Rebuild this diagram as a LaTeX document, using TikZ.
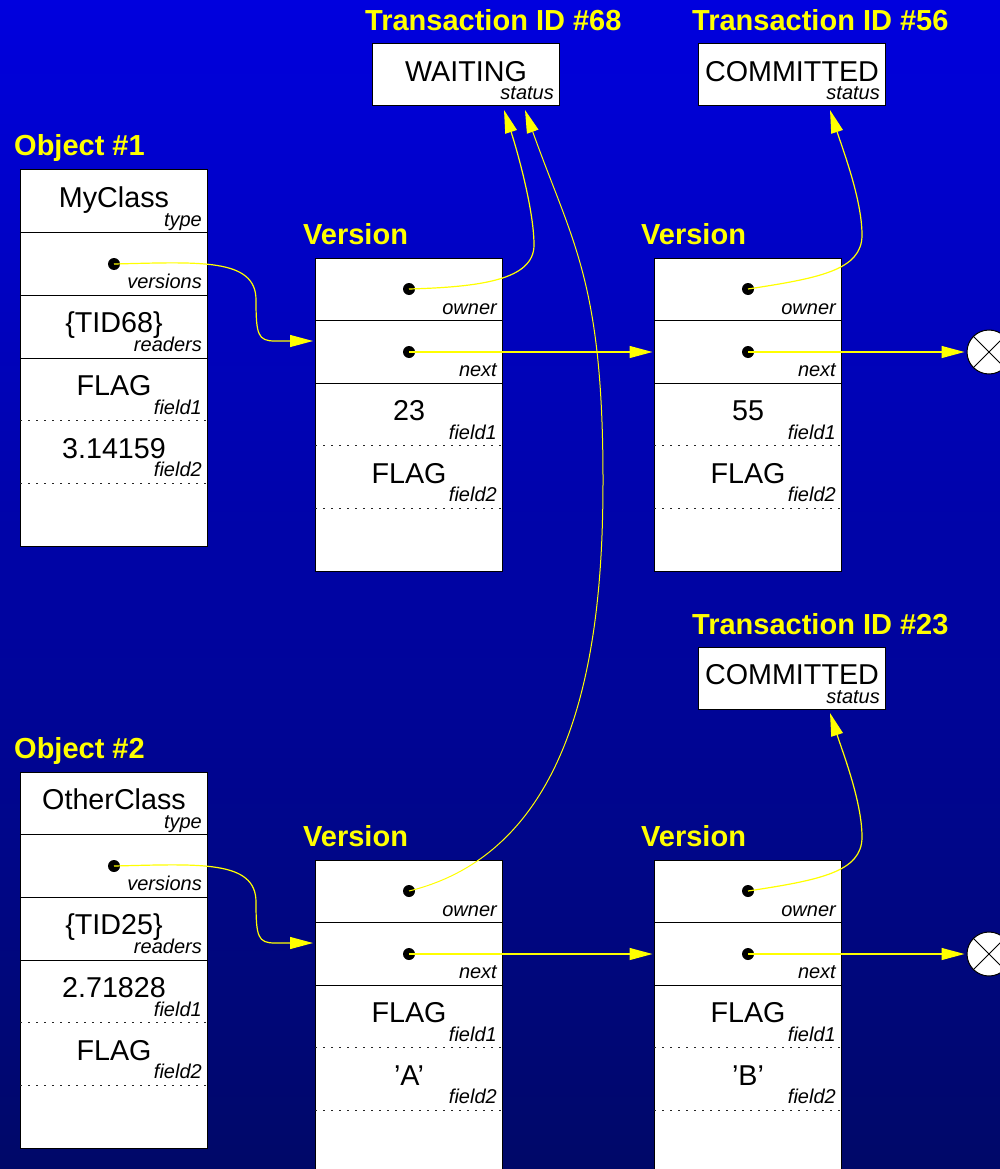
\documentclass[tikz,border=0pt]{standalone}
\usepackage{fontspec}
\setmainfont{Liberation Sans}
\usetikzlibrary{arrows.meta,calc}
\definecolor{bgtop}{RGB}{0,0,222}
\definecolor{bgbot}{RGB}{0,8,104}
\definecolor{ptrcol}{RGB}{255,255,0}
\begin{document}
\begin{tikzpicture}[x=1pt,y=-1pt,
  recbox/.style={draw=black, line width=1pt, fill=white, anchor=north west,
    inner sep=0pt, outer sep=0pt, minimum width=187.5pt},
  val/.style={anchor=base, inner sep=0pt, font=\fontsize{28.7}{30}\selectfont},
  lab/.style={anchor=base east, inner sep=0pt, font=\fontsize{20}{22}\selectfont\itshape},
  title/.style={anchor=base west, inner sep=0pt, text=ptrcol,
    font=\fontsize{29}{32}\selectfont\bfseries},
  ptrdot/.style={circle, fill=black, inner sep=0pt, minimum size=12pt},
  ptr/.style={draw=ptrcol, line width=1.2pt, -{Triangle[length=23pt,width=12pt]}},
  solidsep/.style={line width=1pt, black},
  dotsep/.style={line width=1pt, dash pattern=on 1.5pt off 6.5pt, black!85},
  nil/.style={circle, draw=black, fill=white, line width=1pt, minimum size=44pt, inner sep=0pt}
]
% record helpers: a value centred in a row, its field name at the lower right
\newcommand\recrow[5]{%
  \node[val] (#1v) at ({#2+94},{#3+37.5}) {#4};
  \node[lab] (#1l) at ({#2+182},{#3+56}) {#5};}
\newcommand\hsep[3]{\draw[#3] ($(#1.north west)+(0,#2)$) -- ($(#1.north east)+(0,#2)$);}

% background
\useasboundingbox (0,0) rectangle (1000,1169);
\shade[top color=bgtop, bottom color=bgbot] (0,0) rectangle (1000,1169);

% ---------- titles ----------
\node[title] (tt68) at (365,31) {Transaction ID \#68};
\node[title] (tt56) at (692,31) {Transaction ID \#56};
\node[title] (tt23) at (692,634) {Transaction ID \#23};
\node[title] (to1) at (14,156) {Object \#1};
\node[title] (to2) at (14,758) {Object \#2};
\node[title] (tv1) at (303,244) {Version};
\node[title] (tv2) at (641,244) {Version};
\node[title] (tv3) at (303,846) {Version};
\node[title] (tv4) at (641,846) {Version};

% ---------- transaction records ----------
\node[recbox, minimum height=62pt] (t68) at (372,44) {};
\recrow{t68s}{372}{44}{WAITING}{status}
\node[recbox, minimum height=62pt] (t56) at (698,44) {};
\recrow{t56s}{698}{44}{COMMITTED}{status}
\node[recbox, minimum height=62pt] (t23) at (698,647) {};
\recrow{t23s}{698}{647}{COMMITTED}{status}

% ---------- object #1 ----------
\node[recbox, minimum height=376pt] (o1) at (20,170) {};
\hsep{o1}{62.67}{solidsep}
\hsep{o1}{125.33}{solidsep}
\hsep{o1}{188}{solidsep}
\hsep{o1}{250.67}{dotsep}
\hsep{o1}{313.33}{dotsep}
\recrow{o1a}{20}{170}{MyClass}{type}
\node[lab] (o1bl) at (202,288.7) {versions};
\node[ptrdot] (o1d) at (114,264) {};
\recrow{o1c}{20}{295.3}{\{TID68\}}{readers}
\recrow{o1e}{20}{358}{FLAG}{field1}
\recrow{o1f}{20}{420.7}{3.14159}{field2}

% ---------- object #2 ----------
\node[recbox, minimum height=376pt] (o2) at (20,772) {};
\hsep{o2}{62.67}{solidsep}
\hsep{o2}{125.33}{solidsep}
\hsep{o2}{188}{solidsep}
\hsep{o2}{250.67}{dotsep}
\hsep{o2}{313.33}{dotsep}
\recrow{o2a}{20}{772}{OtherClass}{type}
\node[lab] (o2bl) at (202,890.7) {versions};
\node[ptrdot] (o2d) at (114,866) {};
\recrow{o2c}{20}{897.3}{\{TID25\}}{readers}
\recrow{o2e}{20}{960}{2.71828}{field1}
\recrow{o2f}{20}{1022.7}{FLAG}{field2}

% ---------- versions ----------
% upper row
\node[recbox, minimum height=313pt] (v1) at (315,258) {};
\hsep{v1}{62.6}{solidsep}
\hsep{v1}{125.2}{solidsep}
\hsep{v1}{187.8}{dotsep}
\hsep{v1}{250.4}{dotsep}
\node[lab] (v1ol) at (497,314) {owner};
\node[lab] (v1nl) at (497,376.6) {next};
\node[ptrdot] (v1o) at (409,289) {};
\node[ptrdot] (v1n) at (409,352) {};
\recrow{v1c}{315}{383.2}{23}{field1}
\recrow{v1e}{315}{445.8}{FLAG}{field2}

\node[recbox, minimum height=313pt] (v2) at (654,258) {};
\hsep{v2}{62.6}{solidsep}
\hsep{v2}{125.2}{solidsep}
\hsep{v2}{187.8}{dotsep}
\hsep{v2}{250.4}{dotsep}
\node[lab] (v2ol) at (836,314) {owner};
\node[lab] (v2nl) at (836,376.6) {next};
\node[ptrdot] (v2o) at (748,289) {};
\node[ptrdot] (v2n) at (748,352) {};
\recrow{v2c}{654}{383.2}{55}{field1}
\recrow{v2e}{654}{445.8}{FLAG}{field2}

% lower row
\node[recbox, minimum height=313pt] (v3) at (315,860) {};
\hsep{v3}{62.6}{solidsep}
\hsep{v3}{125.2}{solidsep}
\hsep{v3}{187.8}{dotsep}
\hsep{v3}{250.4}{dotsep}
\node[lab] (v3ol) at (497,916) {owner};
\node[lab] (v3nl) at (497,978.6) {next};
\node[ptrdot] (v3o) at (409,891) {};
\node[ptrdot] (v3n) at (409,954) {};
\recrow{v3c}{315}{985.2}{FLAG}{field1}
\recrow{v3e}{315}{1047.8}{’A’}{field2}

\node[recbox, minimum height=313pt] (v4) at (654,860) {};
\hsep{v4}{62.6}{solidsep}
\hsep{v4}{125.2}{solidsep}
\hsep{v4}{187.8}{dotsep}
\hsep{v4}{250.4}{dotsep}
\node[lab] (v4ol) at (836,916) {owner};
\node[lab] (v4nl) at (836,978.6) {next};
\node[ptrdot] (v4o) at (748,891) {};
\node[ptrdot] (v4n) at (748,954) {};
\recrow{v4c}{654}{985.2}{FLAG}{field1}
\recrow{v4e}{654}{1047.8}{’B’}{field2}

% ---------- null terminators ----------
\node[nil] (nil1) at (989,352) {};
\draw[line width=0.8pt] (nil1.north west) -- (nil1.south east) (nil1.north east) -- (nil1.south west);
\node[nil] (nil2) at (989,954) {};
\draw[line width=0.8pt] (nil2.north west) -- (nil2.south east) (nil2.north east) -- (nil2.south west);

% ---------- pointers ----------
% versions lists
\draw[ptr] (o1d.center) .. controls (200,262) and (256,258) .. (256,300)
  .. controls (256,335) and (258,341) .. (275,341) -- ($(v1.north west)+(-2,83)$);
\draw[ptr] (o2d.center) .. controls (200,864) and (256,860) .. (256,902)
  .. controls (256,937) and (258,943) .. (275,943) -- ($(v3.north west)+(-2,83)$);
% next links
\draw[ptr, shorten >=1.5pt] (v1n.center) -- (v1n -| v2.west);
\draw[ptr, shorten >=2pt] (v2n.center) -- (nil1.west);
\draw[ptr, shorten >=1.5pt] (v3n.center) -- (v3n -| v4.west);
\draw[ptr, shorten >=2pt] (v4n.center) -- (nil2.west);
% owners
\draw[ptr] (v1o.center) .. controls (480,287) and (534,280) .. (534,245)
  .. controls (534,210) and (517,150) .. ($(t68.south west)+(132,4)$);
\draw[ptr, line width=1pt] (v3o.center) .. controls (584,848) and (603,630) .. (603,480)
  .. controls (603,280) and (572,242) .. ($(t68.south west)+(153,4)$);
\draw[ptr] (v2o.center) .. controls (820,278) and (862,270) .. (862,235)
  .. controls (862,200) and (843,150) .. ($(t56.south west)+(132,4)$);
\draw[ptr] (v4o.center) .. controls (820,880) and (862,872) .. (862,837)
  .. controls (862,802) and (843,753) .. ($(t23.south west)+(132,4)$);
\end{tikzpicture}
\end{document}
